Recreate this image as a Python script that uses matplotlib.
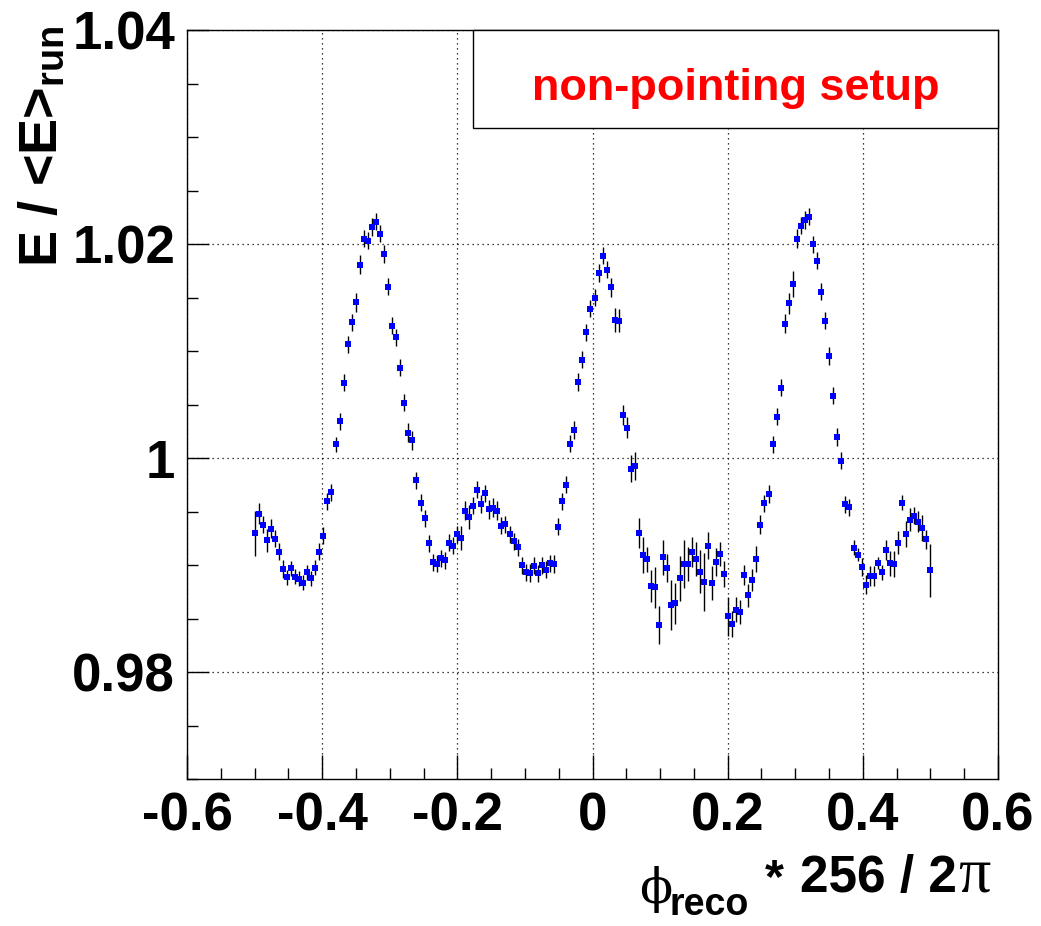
import numpy as np
import matplotlib
matplotlib.use("Agg")
import matplotlib.pyplot as plt
from matplotlib.patches import Rectangle
from matplotlib.ticker import MultipleLocator

# ---------------- data ----------------
n_points = 168
x_min_data, x_max_data = -0.5, 0.5

ratio = [
    0.99300, 0.99482, 0.99380, 0.99231, 0.99340, 0.99249, 0.99126, 0.98965, 0.98887, 0.98971,
    0.98893, 0.98875, 0.98837, 0.98936, 0.98877, 0.98977, 0.99126, 0.99275, 0.99596, 0.99680,
    1.00130, 1.00344, 1.00703, 1.01063, 1.01268, 1.01456, 1.01807, 1.02049, 1.02033, 1.02160,
    1.02207, 1.02095, 1.01907, 1.01602, 1.01237, 1.01128, 1.00846, 1.00517, 1.00238, 1.00167,
    0.99792, 0.99584, 0.99438, 0.99206, 0.99029, 0.99014, 0.99063, 0.99045, 0.99210, 0.99184,
    0.99287, 0.99252, 0.99510, 0.99448, 0.99556, 0.99705, 0.99572, 0.99671, 0.99522, 0.99538,
    0.99510, 0.99368, 0.99383, 0.99287, 0.99224, 0.99166, 0.99001, 0.98936, 0.98927, 0.98996,
    0.98924, 0.99001, 0.98958, 0.99020, 0.99011, 0.99361, 0.99596, 0.99750, 1.00133, 1.00263,
    1.00712, 1.00921, 1.01175, 1.01395, 1.01500, 1.01730, 1.01891, 1.01760, 1.01596, 1.01293,
    1.01286, 1.00403, 1.00285, 0.99903, 0.99926, 0.99299, 0.99094, 0.99054, 0.98803, 0.98794,
    0.98443, 0.99073, 0.98973, 0.98629, 0.98645, 0.98880, 0.99011, 0.99008, 0.99119, 0.99061,
    0.98940, 0.98843, 0.99184, 0.98831, 0.99029, 0.99103, 0.98915, 0.98521, 0.98453, 0.98586,
    0.98564, 0.98908, 0.98719, 0.98862, 0.99057, 0.99377, 0.99578, 0.99665, 1.00128, 1.00387,
    1.00657, 1.01256, 1.01447, 1.01630, 1.02049, 1.02170, 1.02225, 1.02256, 1.02000, 1.01844,
    1.01553, 1.01286, 1.00954, 1.00582, 1.00198, 0.99975, 0.99568, 0.99541, 0.99163, 0.99098,
    0.98983, 0.98819, 0.98899, 0.98899, 0.99020, 0.98936, 0.99141, 0.99017, 0.99011, 0.99212,
    0.99582, 0.99293, 0.99426, 0.99463, 0.99408, 0.99345, 0.99243, 0.98952,
]

ratio_err = [
    0.0021, 0.0010, 0.0008, 0.0011, 0.0009, 0.0008, 0.0008, 0.0008, 0.0007, 0.0007,
    0.0007, 0.0007, 0.0007, 0.0007, 0.0007, 0.0007, 0.0008, 0.0008, 0.0008, 0.0008,
    0.0007, 0.0008, 0.0008, 0.0008, 0.0008, 0.0009, 0.0009, 0.0008, 0.0008, 0.0008,
    0.0008, 0.0008, 0.0008, 0.0008, 0.0008, 0.0008, 0.0008, 0.0008, 0.0009, 0.0009,
    0.0008, 0.0008, 0.0008, 0.0008, 0.0008, 0.0008, 0.0008, 0.0008, 0.0008, 0.0008,
    0.0008, 0.0011, 0.0009, 0.0011, 0.0008, 0.0008, 0.0008, 0.0008, 0.0009, 0.0009,
    0.0009, 0.0008, 0.0008, 0.0008, 0.0008, 0.0008, 0.0008, 0.0008, 0.0008, 0.0008,
    0.0008, 0.0008, 0.0008, 0.0008, 0.0008, 0.0008, 0.0008, 0.0008, 0.0008, 0.0008,
    0.0008, 0.0008, 0.0008, 0.0008, 0.0008, 0.0008, 0.0008, 0.0008, 0.0009, 0.0011,
    0.0011, 0.0009, 0.0010, 0.0013, 0.0013, 0.0014, 0.0017, 0.0012, 0.0015, 0.0019,
    0.0018, 0.0016, 0.0013, 0.0023, 0.0019, 0.0021, 0.0022, 0.0016, 0.0014, 0.0016,
    0.0020, 0.0027, 0.0013, 0.0016, 0.0013, 0.0011, 0.0012, 0.0018, 0.0012, 0.0012,
    0.0011, 0.0009, 0.0011, 0.0010, 0.0012, 0.0009, 0.0008, 0.0008, 0.0008, 0.0008,
    0.0008, 0.0009, 0.0010, 0.0012, 0.0009, 0.0008, 0.0008, 0.0008, 0.0008, 0.0008,
    0.0008, 0.0008, 0.0008, 0.0008, 0.0008, 0.0008, 0.0008, 0.0008, 0.0007, 0.0006,
    0.0008, 0.0009, 0.0009, 0.0009, 0.0006, 0.0007, 0.0009, 0.0012, 0.0012, 0.0011,
    0.0007, 0.0012, 0.0011, 0.0008, 0.0010, 0.0012, 0.0009, 0.0025,
]

x_ticks = [-0.6, -0.4, -0.2, 0.0, 0.2, 0.4, 0.6]
x_tick_labels = ["-0.6", "-0.4", "-0.2", "0", "0.2", "0.4", "0.6"]
y_ticks = [0.98, 1.00, 1.02, 1.04]
y_tick_labels = ["0.98", "1", "1.02", "1.04"]

legend_text = "non-pointing setup"
# x-axis title: "phi_reco * 256 / 2 pi" (drawn in pieces, like ROOT TLatex)
x_title_symbol = "\u03d5"
x_title_sub = "reco"
x_title_star = "*"
x_title_num = "256 / 2"
x_title_pi = "\u03c0"
y_title = r"E / <E>$_\mathbf{run}$"

# bin centres
phi = np.linspace(x_min_data, x_max_data, n_points)

# ---------------- style ----------------
plt.rcParams["font.family"] = ["Liberation Sans", "DejaVu Sans"]
plt.rcParams["font.weight"] = "bold"
plt.rcParams["mathtext.fontset"] = "custom"
plt.rcParams["mathtext.rm"] = "Liberation Sans:bold"
plt.rcParams["mathtext.bf"] = "Liberation Sans:bold"
plt.rcParams["mathtext.it"] = "Liberation Serif"
plt.rcParams["mathtext.sf"] = "Liberation Sans:bold"

W, H = 1041, 926
fig = plt.figure(figsize=(W / 100, H / 100), dpi=100)
fig.patch.set_facecolor("white")


def px(x, y):
    return x / W, 1 - y / H


left, right, top, bottom = 187, 998, 30, 779.3
ax = fig.add_axes([left / W, 1 - bottom / H, (right - left) / W, (bottom - top) / H])

ax.errorbar(phi, ratio, yerr=ratio_err, fmt="s", ms=4.6,
            mfc="#0000ff", mec="#0000ff", mew=0.0,
            ecolor="black", elinewidth=1.0, capsize=0, zorder=3)

ax.set_xlim(-0.6, 0.6)
ax.set_ylim(0.97, 1.04)

ax.set_xticks(x_ticks)
ax.set_xticklabels(x_tick_labels)
ax.set_yticks(y_ticks)
ax.set_yticklabels(y_tick_labels)
ax.xaxis.set_minor_locator(MultipleLocator(0.05))
ax.yaxis.set_minor_locator(MultipleLocator(0.005))

ax.tick_params(axis="both", which="both", direction="in", top=False, right=False,
               color="black", width=1.0)
ax.tick_params(axis="x", which="major", length=17, labelsize=38, pad=8.5)
ax.tick_params(axis="y", which="major", length=16, labelsize=38, pad=8.5)
ax.tick_params(axis="both", which="minor", length=8)
for lab in ax.get_xticklabels() + ax.get_yticklabels():
    lab.set_fontweight("bold")

ax.grid(True, which="major", color="black", linestyle=(0, (1, 3)), linewidth=0.9, zorder=1)
ax.set_axisbelow(True)
for s in ax.spines.values():
    s.set_linewidth(1.0)
    s.set_color("black")

# legend-like pave
box_left = (473 - left) / (right - left)
box_bottom = (bottom - 128) / (bottom - top)
ax.add_patch(Rectangle((box_left, box_bottom), 1 - box_left, 1 - box_bottom,
                       transform=ax.transAxes, facecolor="white", edgecolor="black",
                       linewidth=1.0, zorder=5, clip_on=False))
ax.text((box_left + 1) / 2, (bottom - 100) / (bottom - top), legend_text,
        transform=ax.transAxes, color="#ff0000", fontsize=32.5, fontweight="bold",
        ha="center", va="baseline", zorder=6)

# x axis title pieces
fig.text(*px(639, 903), x_title_symbol, family=["DejaVu Serif"], fontweight="normal",
         fontsize=35, ha="left", va="baseline")
fig.text(*px(670, 915), x_title_sub, fontsize=27, fontweight="bold",
         ha="left", va="baseline")
fig.text(*px(765, 891.7), x_title_star, fontsize=35, fontweight="bold",
         ha="left", va="baseline")
fig.text(*px(800, 891.7), x_title_num, fontsize=37, fontweight="bold",
         ha="left", va="baseline")
fig.text(*px(958, 891.7), x_title_pi, family=["Liberation Serif", "DejaVu Serif"],
         fontweight="normal", fontsize=46, ha="left", va="baseline")

# y axis title
fig.text(*px(42, 25), y_title, fontsize=39, fontweight="bold",
         rotation=90, ha="center", va="top")

fig.savefig("out.png", dpi=100, facecolor="white")
